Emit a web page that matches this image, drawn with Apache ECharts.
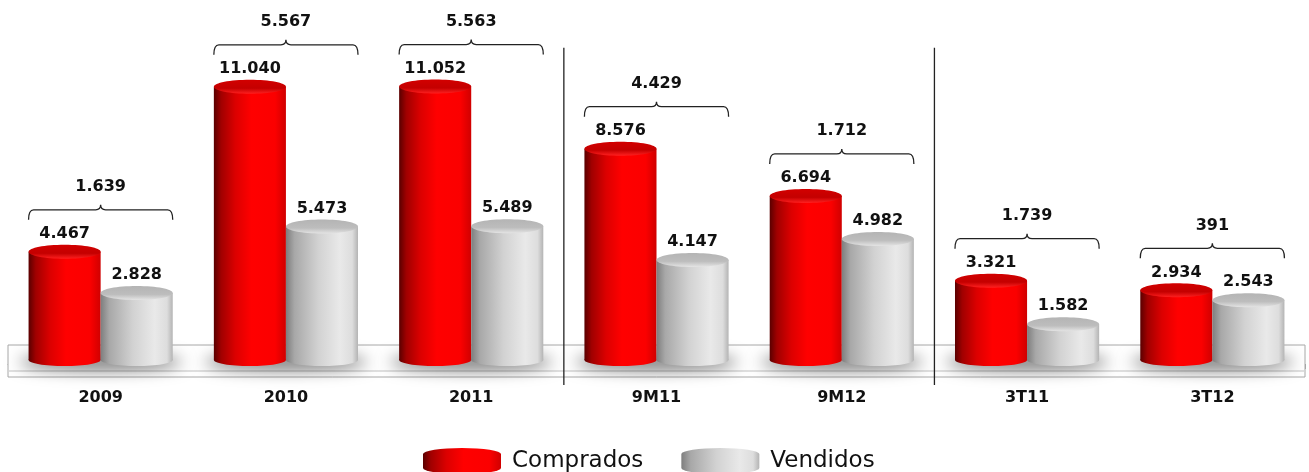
<!DOCTYPE html>
<html>
<head>
<meta charset="utf-8">
<script src="https://cdn.jsdelivr.net/npm/echarts@6/dist/echarts.min.js"></script>
<style>
html,body{margin:0;padding:0;background:#fff;}
#chart{width:1309px;height:472px;}
</style>
</head>
<body>
<div id="chart"></div>
<script>
const categories = ['2009', '2010', '2011', '9M11', '9M12', '3T11', '3T12'];
const comprados = [4467, 11040, 11052, 8576, 6694, 3321, 2934];
const vendidos = [2828, 5473, 5489, 4147, 4982, 1582, 2543];
const diferenca = [1639, 5567, 5563, 4429, 1712, 1739, 391];
const separatorsAfter = [2, 4];

const FONT = 'Verdana, "DejaVu Sans", sans-serif';
const fmt = n => String(n).replace(/\B(?=(\d{3})+(?!\d))/g, '.');

function grad(x2, y2, stops) {
  return new echarts.graphic.LinearGradient(0, 0, x2, y2, stops.map(s => ({offset: s[0], color: s[1]})));
}

const styles = {
  red: {
    body: () => grad(1, 0, [[0, '#5a0000'], [0.1, '#a00000'], [0.3, '#dc0000'], [0.52, '#ff0000'], [0.85, '#fb0000'], [1, '#d00000']]),
    top: () => grad(0, 1, [[0, '#d20000'], [0.6, '#c40000'], [1, '#ff2020']])
  },
  gray: {
    body: () => grad(1, 0, [[0, '#7e7e7e'], [0.12, '#a8a8a8'], [0.45, '#d2d2d2'], [0.75, '#e9e9e9'], [0.92, '#dddddd'], [1, '#b4b4b4']]),
    top: () => grad(0, 1, [[0, '#b4b4b4'], [0.6, '#bdbdbd'], [1, '#e4e4e4']])
  }
};

function cylinder(side, st) {
  return function (params, api) {
    const idx = api.value(0), v = api.value(1);
    const top = api.coord([idx, v]);
    const base = api.coord([idx, 0]);
    const bw = api.size([1, 0])[0];
    const w = bw * 0.389;
    const x0 = side < 0 ? top[0] - w : top[0];
    const rx = w / 2, cx = x0 + rx;
    const yb = base[1] - 4;
    return {
      type: 'group',
      children: [
        {type: 'ellipse', shape: {cx: cx, cy: yb, rx: rx, ry: 6}, style: {fill: st.body()}},
        {type: 'rect', shape: {x: x0, y: top[1], width: w, height: yb - top[1]}, style: {fill: st.body()}},
        {type: 'ellipse', shape: {cx: cx, cy: top[1], rx: rx, ry: 7}, style: {fill: st.top()}},
        {type: 'text', style: {text: fmt(v), x: cx, y: top[1] - 18, align: 'center', verticalAlign: 'middle',
          font: 'bold 16px ' + FONT, fill: '#111'}}
      ]
    };
  };
}

function platform(params, api) {
  const idx = api.value(0);
  const cs = params.coordSys;
  const base = api.coord([idx, 0]);
  const bw = api.size([1, 0])[0];
  const children = [];
  const y0 = base[1];
  if (idx === 0) {
    children.push({type: 'rect', shape: {x: cs.x, y: y0 - 19, width: cs.width, height: 32},
      style: {fill: '#ffffff', stroke: '#a8a8a8', lineWidth: 1}});
    children.push({type: 'line', shape: {x1: cs.x + 1, y1: y0 + 7, x2: cs.x + cs.width - 1, y2: y0 + 7},
      style: {stroke: '#d6d6d6', lineWidth: 1.5}});
  }
  // soft shadow under the pair of cylinders (drawn off-canvas, shadow shifted in)
  const shift = 3000;
  children.push({type: 'ellipse', shape: {cx: base[0] - shift, cy: y0 - 2, rx: bw * 0.44, ry: 8},
    style: {fill: '#000', shadowBlur: 16, shadowColor: 'rgba(0,0,0,0.55)', shadowOffsetX: shift, shadowOffsetY: 0}});
  return {type: 'group', children: children};
}

function overlay(params, api) {
  const idx = api.value(0);
  const c = api.value(1), v = api.value(2), d = api.value(3);
  const bw = api.size([1, 0])[0];
  const w = bw * 0.389;
  const topMax = api.coord([idx, Math.max(c, v)]);
  const cx = topMax[0];
  const y = topMax[1] - 42;
  const L = cx - w, R = cx + w;
  const children = [
    {type: 'path', shape: {pathData:
      'M' + L + ',' + (y + 10) + ' Q' + L + ',' + y + ' ' + (L + 5) + ',' + y +
      ' L' + (cx - 5) + ',' + y + ' Q' + cx + ',' + y + ' ' + cx + ',' + (y - 5) +
      ' Q' + cx + ',' + y + ' ' + (cx + 5) + ',' + y +
      ' L' + (R - 5) + ',' + y + ' Q' + R + ',' + y + ' ' + R + ',' + (y + 10)},
      style: {fill: null, stroke: '#222', lineWidth: 1.3}},
    {type: 'text', style: {text: fmt(d), x: cx, y: y - 23, align: 'center', verticalAlign: 'middle',
      font: 'bold 16px ' + FONT, fill: '#111'}}
  ];
  if (separatorsAfter.indexOf(idx) >= 0) {
    const sx = cx + bw / 2;
    const top = api.coord([idx, 12600]);
    const base = api.coord([idx, 0]);
    children.push({type: 'line', shape: {x1: sx, y1: top[1], x2: sx, y2: base[1] + 21},
      style: {stroke: '#222', lineWidth: 1.3}});
  }
  return {type: 'group', children: children};
}

const legendIcon = 'path://M0,6 A39,6 0 0 1 78,6 L78,20 A39,6 0 0 1 0,20 Z';

const chart = echarts.init(document.getElementById('chart'), null, {renderer: 'canvas'});
chart.setOption({
  animation: false,
  backgroundColor: '#ffffff',
  grid: {left: 8, right: 4, top: 0, bottom: 108, containLabel: false},
  xAxis: {
    type: 'category', data: categories, offset: 13,
    axisLine: {lineStyle: {color: '#a8a8a8', width: 1}},
    axisTick: {show: true, length: 5, lineStyle: {color: '#a8a8a8'}},
    axisLabel: {fontFamily: FONT, fontWeight: 'bold', fontSize: 16, color: '#111', margin: 13}
  },
  yAxis: {type: 'value', min: 0, max: 14500, show: false, splitLine: {show: false}},
  legend: {
    left: 418, top: 443, itemWidth: 78, itemHeight: 26, itemGap: 38,
    icon: legendIcon,
    textStyle: {fontFamily: FONT, fontSize: 23, color: '#111', padding: [0, 0, 0, 6]},
    data: [
      {name: 'Comprados', itemStyle: {color: styles.red.body()}},
      {name: 'Vendidos', itemStyle: {color: styles.gray.body()}}
    ]
  },
  series: [
    {type: 'custom', name: 'platform', z: 1, silent: true, renderItem: platform,
      data: categories.map((c, i) => [i, 0]), encode: {x: 0, y: 1}},
    {type: 'custom', name: 'Comprados', z: 2, renderItem: cylinder(-1, styles.red),
      itemStyle: {color: '#e00000'},
      data: comprados.map((v, i) => [i, v]), encode: {x: 0, y: 1}},
    {type: 'custom', name: 'Vendidos', z: 2, renderItem: cylinder(1, styles.gray),
      itemStyle: {color: '#c8c8c8'},
      data: vendidos.map((v, i) => [i, v]), encode: {x: 0, y: 1}},
    {type: 'custom', name: 'overlay', z: 3, silent: true, renderItem: overlay,
      data: categories.map((c, i) => [i, comprados[i], vendidos[i], diferenca[i]]),
      encode: {x: 0, y: [1, 2]}}
  ]
});
</script>
</body>
</html>
